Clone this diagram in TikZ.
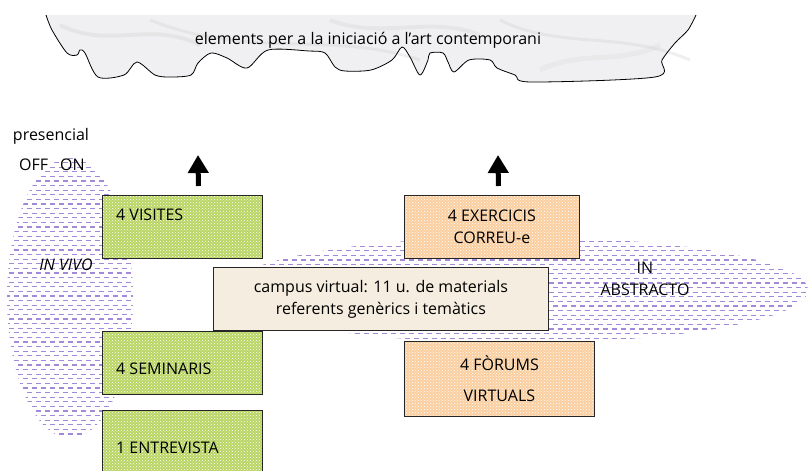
\documentclass[tikz,border=0pt]{standalone}
\usepackage{fontspec}
\setmainfont{Open Sans}
\usetikzlibrary{patterns,arrows.meta}
\definecolor{greenfill}{HTML}{A8CB3C}
\definecolor{orangefill}{HTML}{F9C58E}
\definecolor{campusfill}{HTML}{F5EDDF}
\definecolor{dashpurple}{HTML}{A28AD8}
\definecolor{marble}{HTML}{F0F0F2}
\begin{document}
\begin{tikzpicture}[x=1pt,y=-1pt,
        font=\fontsize{16}{22}\selectfont,
        greenbox/.style={draw=black!85,line width=0.8pt,preaction={fill=greenfill!80!white},
                pattern=crosshatch dots,pattern color=white,
                anchor=north west,inner sep=0pt},
        orangebox/.style={draw=black!85,line width=0.8pt,preaction={fill=orangefill!85!white},
                pattern=crosshatch dots,pattern color=white,
                anchor=north west,inner sep=0pt,align=center},
        campusbox/.style={draw=black!85,line width=0.8pt,fill=campusfill,
                anchor=north west,inner sep=0pt,align=center},
        boxtext/.style={anchor=west,inner sep=0pt},
        dashrow/.style={draw=dashpurple,line width=1.1pt,dash pattern=on 5pt off 4pt},
        bigarrow/.style={line width=5pt,-{Triangle[width=20pt,length=18pt]}}]
        \useasboundingbox (0,0) rectangle (809,471);
        \clip (0,0) rectangle (809,471);

        \fill[marble] plot[smooth,tension=0.5] coordinates {(46,15) (52,30) (67,53) (77,55) (80,50)
                (85,53) (98,77) (124,75) (137,62) (155,75) (170,77) (191,75) (198,63) (211,53)
                (227,58) (247,68) (268,50) (309,51) (325,53) (335,67) (345,71) (371,70) (392,60)
                (402,47) (410,57) (420,75) (428,60) (430,53) (443,53) (448,62) (454,72) (469,60)
                (490,60) (497,68) (515,75) (531,82) (655,77) (662,60) (675,43) (688,30) (696,15)} -- cycle;
        \begin{scope}
                \clip (46,15) rectangle (696,82);
                \draw[gray!35,line width=4pt,opacity=0.35] (60,25) .. controls (110,50) and (150,20) .. (200,45);
                \draw[gray!35,line width=3pt,opacity=0.35] (150,20) .. controls (250,60) and (330,30) .. (420,60);
                \draw[gray!35,line width=3pt,opacity=0.35] (500,20) .. controls (560,50) and (620,30) .. (690,60);
                \draw[gray!35,line width=4pt,opacity=0.3] (330,20) .. controls (380,40) and (430,15) .. (480,35);
                \draw[gray!30,line width=5pt,opacity=0.3] (540,70) .. controls (580,50) and (620,65) .. (660,45);
        \end{scope}
        \draw[line width=0.8pt] plot[smooth,tension=0.5] coordinates {(46,15) (52,30) (67,53) (77,55) (80,50)
                (85,53) (98,77) (124,75) (137,62) (155,75) (170,77) (191,75) (198,63) (211,53)
                (227,58) (247,68) (268,50) (309,51) (325,53) (335,67) (345,71) (371,70) (392,60)
                (402,47) (410,57) (420,75) (428,60) (430,53) (443,53) (448,62) (454,72) (469,60)
                (490,60) (497,68) (515,75) (531,82) (655,77) (662,60) (675,43) (688,30) (696,15)};
        \node (title) at (368,40) {elements per a la iniciació a l’art contemporani};

        \begin{scope}
                \clip (70,298) ellipse [x radius=63, y radius=140];
                \foreach \yy [count=\i] in {158,162.6,...,440} {
                        \pgfmathsetmacro\ph{mod(\i,2)*4.5}
                        \draw[dashrow,dash phase=\ph pt] (0,\yy) -- (140,\yy);
                }
        \end{scope}
        \begin{scope}
                \clip (518,290) ellipse [x radius=290, y radius=53];
                \foreach \yy [count=\i] in {237,241.6,...,345} {
                        \pgfmathsetmacro\ph{mod(\i,2)*4.5}
                        \draw[dashrow,dash phase=\ph pt] (220,\yy) -- (809,\yy);
                }
        \end{scope}

        \node (presencial) at (51,136) {presencial};
        \node (offon) at (52,165) {OFF\hspace{12pt}ON};
        \node (invivo) at (66,265) {\itshape IN VIVO};
        \node[align=center] (inabs) at (645,279) {IN\\ABSTRACTO};

        \node[greenbox,minimum width=160pt,minimum height=63pt] (visites) at (102,195) {};
        \node[greenbox,minimum width=160pt,minimum height=63pt] (seminaris) at (102,331) {};
        \node[greenbox,minimum width=160pt,minimum height=70pt] (entrevista) at (102,410) {};
        \node[boxtext] at ([shift={(14,20)}]visites.north west) {4 VISITES};
        \node[boxtext] at ([shift={(14,38)}]seminaris.north west) {4 SEMINARIS};
        \node[boxtext] at ([shift={(14,38)}]entrevista.north west) {1 ENTREVISTA};

        \node[orangebox,minimum width=175pt,minimum height=63pt] (exercicis) at (404,195) {4 EXERCICIS\\CORREU-e};
        \node[orangebox,minimum width=190pt,minimum height=75pt] (forums) at (404,341) {4 FÒRUMS\\[9pt]VIRTUALS};
        \node[campusbox,minimum width=335pt,minimum height=63pt] (campus) at (213,267)
                {campus virtual: 11 u. de materials\\referents genèrics i temàtics};

        \coordinate (vistip) at (198,155);
        \coordinate (exetip) at (498,155);
        \draw[bigarrow] ([shift={(16,-9)}]visites.north) -- (vistip);
        \draw[bigarrow] ([shift={(6.5,-9)}]exercicis.north) -- (exetip);

\end{tikzpicture}
\end{document}
